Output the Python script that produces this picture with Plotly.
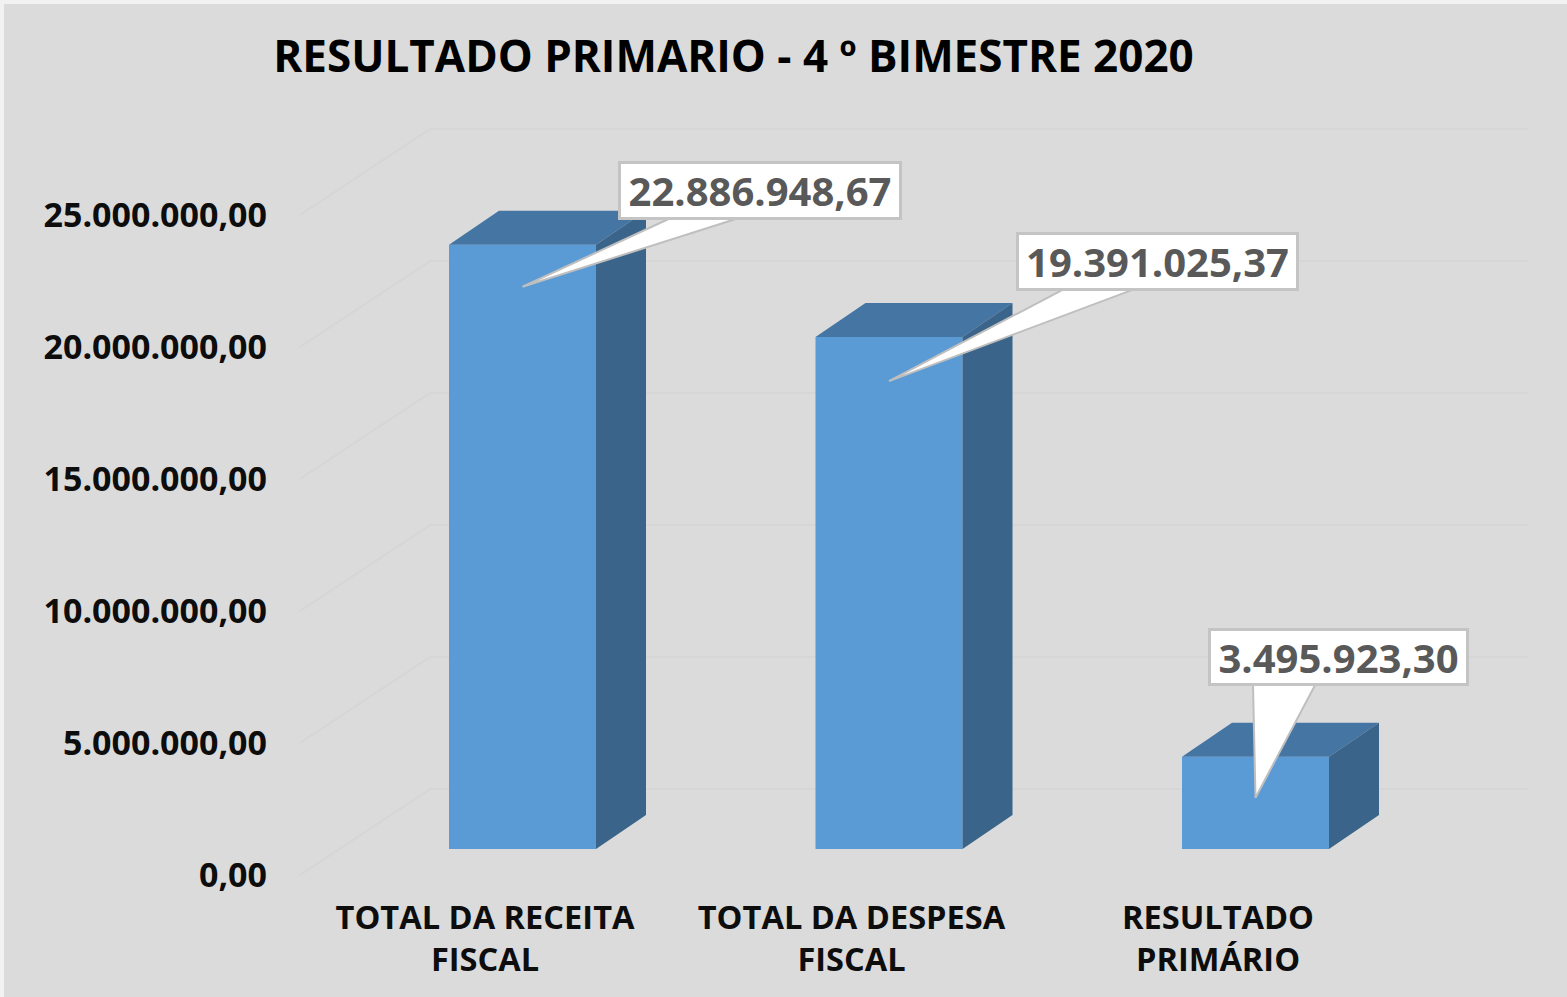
import plotly.graph_objects as go

# ---- data ----
categories = ["TOTAL DA RECEITA<br>FISCAL", "TOTAL DA DESPESA<br>FISCAL", "RESULTADO<br>PRIMÁRIO"]
values = [22886948.67, 19391025.37, 3495923.30]
value_labels = ["22.886.948,67", "19.391.025,37", "3.495.923,30"]
y_ticks = [0, 5000000, 10000000, 15000000, 20000000, 25000000]
y_tick_labels = ["0,00", "5.000.000,00", "10.000.000,00", "15.000.000,00", "20.000.000,00", "25.000.000,00"]
title = "RESULTADO PRIMARIO - 4 º BIMESTRE 2020"

# ---- geometry (page pixels) ----
W, H = 1567, 997
STEP = 366.5          # px between bars
BAR0 = 522.5          # centre of the first bar
BASE = 849            # px of value 0 on the bar front
PPV = 26.4 / 1e6      # px per unit value
BAR_PX = 147
DEPTH_X, DEPTH_Y = 50, 34
LABEL_ZERO = 875      # px of value 0 on the tick label axis
WALL_X0, WALL_X1, WALL_X2, WALL_DY = 300, 430, 1528, 86
CAT_LABEL0 = 485

def px_x(px):  # page px -> category units
    return (px - BAR0) / STEP
def dy(px):    # vertical px distance -> value units
    return px / PPV

x_range = [px_x(0), px_x(W)]
y_range = [(BASE - H) / PPV, BASE / PPV]
y2_range = [(LABEL_ZERO - H) / PPV, LABEL_ZERO / PPV]
x2_range = [(0 - CAT_LABEL0) / STEP, (W - CAT_LABEL0) / STEP]

FRONT, TOP, SIDE = "#5b9bd5", "#4475a3", "#3a6489"
GRID = "#d5d5d5"
FONT = "Open Sans"

fig = go.Figure()

# walls / gridlines: base subplot, so everything else sits above them
wall_shift = dy(BASE - LABEL_ZERO)
for t in y_ticks:
    fig.add_trace(go.Scatter(
        x=[px_x(WALL_X0), px_x(WALL_X1), px_x(WALL_X2)],
        y=[t + wall_shift, t + wall_shift + dy(WALL_DY), t + wall_shift + dy(WALL_DY)],
        mode="lines", line=dict(color=GRID, width=1.5),
        hoverinfo="skip", showlegend=False))

# front faces of the bars (overlay subplot x3/y3, same scales as x/y)
fig.add_trace(go.Bar(x=[0, 1, 2], y=values, width=BAR_PX / STEP, xaxis="x3", yaxis="y3",
                     marker=dict(color=FRONT, line=dict(width=0)),
                     hoverinfo="skip", showlegend=False))

# extruded faces
hw = BAR_PX / STEP / 2
ddx, ddy = DEPTH_X / STEP, dy(DEPTH_Y)
for i, v in enumerate(values):
    fig.add_trace(go.Scatter(
        x=[i - hw, i + hw, i + hw + ddx, i - hw + ddx, i - hw],
        y=[v, v, v + ddy, v + ddy, v], xaxis="x3", yaxis="y3",
        fill="toself", fillcolor=TOP, mode="none", hoverinfo="skip", showlegend=False))
    fig.add_trace(go.Scatter(
        x=[i + hw, i + hw + ddx, i + hw + ddx, i + hw, i + hw],
        y=[0, ddy, v + ddy, v, 0], xaxis="x3", yaxis="y3",
        fill="toself", fillcolor=SIDE, mode="none", hoverinfo="skip", showlegend=False))

# callouts: box offset from bar top (px), pointer base offsets (px rel. to bar top centre), tip drop
box_dx = [237, 268, 82.5]
box_dy = [54, 76, 99.5]
box_w = [278, 277, 255]
box_h = [53, 53, 52]
ptr_left = [145.5, 174, -2.5]
ptr_right = [212.5, 244, 59.5]
tip_drop = [42, 44, 41]

for i, v in enumerate(values):
    base_y = v + dy(box_dy[i] - box_h[i] / 2 - 2)
    tip_y = v - dy(tip_drop[i])
    fig.add_trace(go.Scatter(
        x=[i + ptr_left[i] / STEP, i, i + ptr_right[i] / STEP],
        y=[base_y, tip_y, base_y], xaxis="x3", yaxis="y3",
        mode="lines", fill="toself", fillcolor="#ffffff",
        line=dict(color="#bfbfbf", width=2), hoverinfo="skip", showlegend=False))
    fig.add_annotation(
        x=i, y=v, xref="x3", yref="y3", xshift=box_dx[i], yshift=box_dy[i],
        text=f"<b>{value_labels[i]}</b>", showarrow=False,
        width=box_w[i], height=box_h[i], align="center", valign="middle",
        bgcolor="#ffffff", bordercolor="#c4c4c4", borderwidth=3, borderpad=0,
        font=dict(family=FONT, size=40, color="#595959"))

# invisible carrier for the label axes
fig.add_trace(go.Scatter(x=[0, 1, 2], y=values, xaxis="x2", yaxis="y2", mode="none",
                         hoverinfo="skip", showlegend=False))

fig.update_layout(
    width=W, height=H, autosize=False,
    margin=dict(l=0, r=0, t=0, b=0),
    paper_bgcolor="#f2f2f2", plot_bgcolor="rgba(0,0,0,0)",
    barmode="overlay",
    title=dict(text=f"<b>{title}</b>", x=733.5 / W, xanchor="center",
               y=1 - 57 / H, yanchor="middle",
               font=dict(family=FONT, size=44, color="#000000")),
    xaxis=dict(range=x_range, domain=[0, 1], visible=False, fixedrange=True),
    yaxis=dict(range=y_range, domain=[0, 1], visible=False, fixedrange=True),
    xaxis3=dict(range=x_range, domain=[0, 1], overlaying="x", anchor="y3",
                visible=False, fixedrange=True),
    yaxis3=dict(range=y_range, domain=[0, 1], overlaying="y", anchor="x3",
                visible=False, fixedrange=True),
    yaxis2=dict(range=y2_range, domain=[0, 1], overlaying="y", anchor="free",
                position=267 / W, side="left", tickmode="array",
                tickvals=y_ticks, ticktext=[f"<b>{s}</b>" for s in y_tick_labels],
                showgrid=False, zeroline=False, showline=False, ticks="",
                tickfont=dict(family=FONT, size=34, color="#0d0d0d"), fixedrange=True),
    xaxis2=dict(range=x2_range, domain=[0, 1], overlaying="x", anchor="free",
                position=1 - 895 / H, side="bottom", tickmode="array",
                tickvals=[0, 1, 2], ticktext=[f"<b>{c}</b>" for c in categories],
                showgrid=False, zeroline=False, showline=False, ticks="",
                tickangle=0,
                tickfont=dict(family=FONT, size=32.6, color="#0d0d0d"), fixedrange=True),
    shapes=[dict(type="rect", xref="paper", yref="paper", x0=4 / W, x1=1.01, y0=-0.01,
                 y1=1 - 4 / H, fillcolor="#dbdbdb", line=dict(width=0), layer="below")],
)

fig.write_html("out.html", config={"displayModeBar": False},
               post_script="document.body.style.margin='0';document.body.style.background='#f2f2f2';")
